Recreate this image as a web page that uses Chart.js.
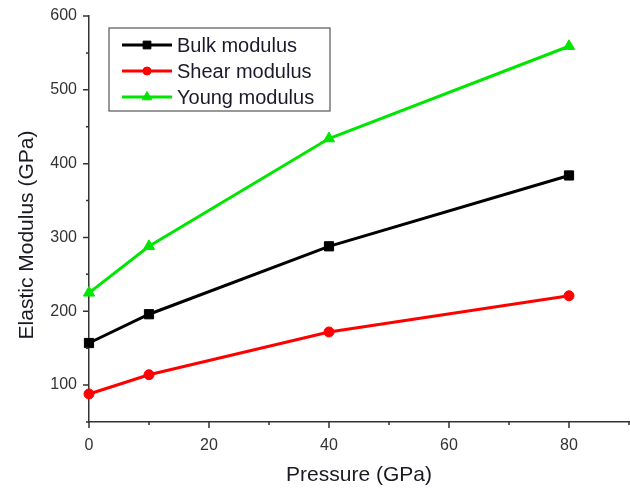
<!DOCTYPE html>
<html>
<head>
<meta charset="utf-8">
<script src="https://cdn.jsdelivr.net/npm/chart.js@4.4.1/dist/chart.umd.min.js"></script>
<style>
  body { margin: 0; background: #fff; }
  #wrap { width: 630px; height: 489px; }
</style>
</head>
<body>
<div id="wrap"><canvas id="modulusChart" width="630" height="489"></canvas></div>
<script>
const pressure = [0, 10, 40, 80];
const bulkModulus = [157, 196, 288, 384];
const shearModulus = [88, 114, 172, 221];
const youngModulus = [225, 288, 434, 559];
const seriesNames = ['Bulk modulus', 'Shear modulus', 'Young modulus'];
const xTicks = [0, 20, 40, 60, 80];
const xMinorTicks = [10, 30, 50, 70, 90];
const yTicks = [100, 200, 300, 400, 500, 600];
const yMinorTicks = [50, 150, 250, 350, 450, 550];

const fontFamily = "'Liberation Sans', Arial, sans-serif";

function toPoints(values) {
  return pressure.map((p, i) => ({ x: p, y: values[i] }));
}

// outward tick marks (major + minor) and both axis titles
const tickMarks = {
  id: 'tickMarks',
  afterDraw(chart) {
    const ctx = chart.ctx;
    const xs = chart.scales.x, ys = chart.scales.y;
    const area = chart.chartArea;
    ctx.save();
    ctx.strokeStyle = '#333';
    ctx.lineWidth = 1.5;
    ctx.beginPath();
    xTicks.forEach(v => { const px = xs.getPixelForValue(v); ctx.moveTo(px, area.bottom); ctx.lineTo(px, area.bottom + 6); });
    xMinorTicks.forEach(v => { const px = xs.getPixelForValue(v); ctx.moveTo(px, area.bottom); ctx.lineTo(px, area.bottom + 3); });
    yTicks.forEach(v => { const py = ys.getPixelForValue(v); ctx.moveTo(area.left, py); ctx.lineTo(area.left - 6, py); });
    yMinorTicks.forEach(v => { const py = ys.getPixelForValue(v); ctx.moveTo(area.left, py); ctx.lineTo(area.left - 3, py); });
    ctx.stroke();

    ctx.fillStyle = '#1a1a22';
    ctx.font = '21px ' + fontFamily;
    ctx.textAlign = 'center';
    ctx.textBaseline = 'middle';
    ctx.fillText('Pressure (GPa)', (area.left + area.right) / 2, chart.height - 14);
    ctx.translate(27, area.bottom - 187);
    ctx.rotate(-Math.PI / 2);
    ctx.fillText('Elastic Modulus (GPa)', 0, 0);
    ctx.restore();
  }
};

// boxed legend inside the plot
const boxLegend = {
  id: 'boxLegend',
  afterDraw(chart) {
    const ctx = chart.ctx;
    const left = 109, top = 28, w = 221, h = 83, rowH = 26;
    ctx.save();
    ctx.strokeStyle = '#555';
    ctx.lineWidth = 1.2;
    ctx.strokeRect(left, top, w, h);
    chart.data.datasets.forEach((ds, i) => {
      const y = top + 17 + i * rowH;
      ctx.strokeStyle = ds.borderColor;
      ctx.lineWidth = ds.borderWidth;
      ctx.beginPath();
      ctx.moveTo(left + 13, y);
      ctx.lineTo(left + 63, y);
      ctx.stroke();
      ctx.fillStyle = ds.pointBackgroundColor;
      ctx.lineWidth = 1;
      Chart.helpers.drawPoint(ctx, { pointStyle: ds.pointStyle, radius: ds.pointRadius - 1, rotation: 0, borderWidth: 1 }, left + 38, y);
      ctx.fillStyle = '#1a1a2a';
      ctx.font = '20px ' + fontFamily;
      ctx.textAlign = 'left';
      ctx.textBaseline = 'middle';
      ctx.fillText(ds.label, left + 68, y + 1);
    });
    ctx.restore();
  }
};

function makeSet(label, values, color, style, radius) {
  return {
    label: label,
    data: toPoints(values),
    borderColor: color,
    backgroundColor: color,
    pointBackgroundColor: color,
    pointBorderColor: color,
    borderWidth: 3,
    pointStyle: style,
    pointRadius: radius,
    pointBorderWidth: 1,
    showLine: true,
    tension: 0,
    clip: false
  };
}

new Chart(document.getElementById('modulusChart'), {
  type: 'scatter',
  data: {
    datasets: [
      makeSet(seriesNames[0], bulkModulus, '#000000', 'rect', 6.5),
      makeSet(seriesNames[1], shearModulus, '#ff0000', 'circle', 5),
      makeSet(seriesNames[2], youngModulus, '#00e600', 'triangle', 6.5)
    ]
  },
  options: {
    responsive: false,
    animation: false,
    layout: { autoPadding: false, padding: { top: 16, right: 1, left: 0, bottom: 0 } },
    plugins: { legend: { display: false }, tooltip: { enabled: false } },
    scales: {
      x: {
        type: 'linear',
        min: 0,
        max: 90,
        // the axis end (90) gets an empty label so no room is kept for it
        afterBuildTicks: s => { s.ticks = xTicks.concat([s.max]).map(v => ({ value: v })); },
        afterFit: s => { s.height = 67; s.paddingLeft = 0; s.paddingRight = 0; },
        grid: { display: false },
        border: { display: true, color: '#333', width: 1.5 },
        ticks: {
          padding: 6,
          color: '#333',
          maxRotation: 0,
          autoSkip: false,
          font: { family: fontFamily, size: 16 },
          callback: v => xTicks.includes(v) ? v : ''
        }
      },
      y: {
        type: 'linear',
        min: 50,
        max: 600,
        afterBuildTicks: s => { s.ticks = yTicks.map(v => ({ value: v })); },
        afterFit: s => { s.width = 89; },
        grid: { display: false },
        border: { display: true, color: '#333', width: 1.5 },
        ticks: { padding: 4, color: '#333', font: { family: fontFamily, size: 16 } }
      }
    }
  },
  plugins: [tickMarks, boxLegend]
});
</script>
</body>
</html>
